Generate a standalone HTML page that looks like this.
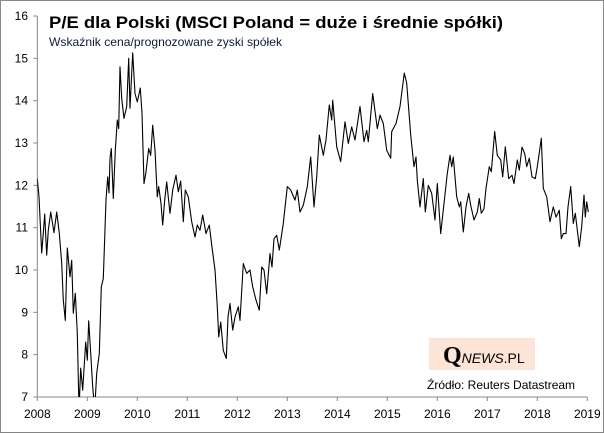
<!DOCTYPE html>
<html><head><meta charset="utf-8"><style>
html,body{margin:0;padding:0;background:#fff}
svg{display:block;font-family:"Liberation Sans",sans-serif}
</style></head><body>
<svg id="chart" width="604" height="434" viewBox="0 0 604 434" xmlns="http://www.w3.org/2000/svg">
<rect x="0.5" y="0.5" width="603" height="432" fill="#fff" stroke="#888"/>
<text x="49" y="28" font-size="16.5" font-weight="bold" fill="#000" textLength="454" lengthAdjust="spacingAndGlyphs">P/E dla Polski (MSCI Poland = duże i średnie spółki)</text>
<text x="49" y="46" font-size="12" fill="#0d1a3a" textLength="233" lengthAdjust="spacingAndGlyphs">Wskaźnik cena/prognozowane zyski spółek</text>
<g id="axes"></g>
<g id="series"></g>
<rect x="429" y="338" width="106" height="32" fill="#fce4d6"/>
<text x="443" y="363" fill="#000"><tspan font-family="Liberation Serif,serif" font-size="24" font-weight="bold">Q</tspan><tspan font-size="14" font-style="italic">NEWS</tspan><tspan font-size="14">.PL</tspan></text>
<text x="427" y="389" font-size="12" fill="#000">Źródło: Reuters Datastream</text>
</svg>
<script>
const yTicks=[7,8,9,10,11,12,13,14,15,16];
const xTicks=[2008,2009,2010,2011,2012,2013,2014,2015,2016,2017,2018,2019];
const dates=[0,.034,.088,.12,.148,.188,.22,.268,.334,.388,.44,.488,.52,.56,.6,.654,.688,.72,.76,.8,.834,.868,.908,.968,1.0,1.028,1.068,1.108,1.148,1.188,1.24,1.28,1.32,1.374,1.408,1.434,1.454,1.48,1.52,1.56,1.6,1.628,1.654,1.688,1.734,1.788,1.828,1.854,1.908,1.954,2.0,2.06,2.094,2.134,2.174,2.228,2.268,2.308,2.354,2.4,2.428,2.474,2.508,2.548,2.588,2.654,2.708,2.774,2.82,2.868,2.92,2.96,3.02,3.088,3.154,3.2,3.254,3.308,3.374,3.44,3.488,3.554,3.6,3.628,3.668,3.72,3.78,3.814,3.854,3.908,3.954,4.02,4.054,4.12,4.188,4.254,4.308,4.374,4.44,4.488,4.534,4.588,4.654,4.694,4.734,4.788,4.84,4.92,5.0,5.068,5.154,5.2,5.254,5.32,5.4,5.468,5.534,5.588,5.64,5.72,5.774,5.84,5.888,5.908,5.988,6.068,6.154,6.22,6.288,6.354,6.454,6.534,6.588,6.62,6.708,6.8,6.854,6.92,6.988,7.068,7.088,7.174,7.254,7.34,7.388,7.468,7.534,7.574,7.6,7.654,7.72,7.76,7.82,7.888,7.954,8.0,8.068,8.134,8.2,8.254,8.288,8.32,8.388,8.44,8.468,8.52,8.574,8.628,8.668,8.734,8.8,8.84,8.88,8.934,8.974,9.04,9.08,9.148,9.2,9.268,9.308,9.36,9.428,9.494,9.534,9.6,9.64,9.694,9.748,9.788,9.84,9.894,9.96,10.0,10.08,10.12,10.188,10.254,10.32,10.374,10.44,10.48,10.52,10.574,10.614,10.668,10.72,10.76,10.84,10.888,10.934,10.96,10.988,11.02];
const peValues=[12.16,11.73,10.4,10.87,11.32,10.35,10.94,11.37,10.88,11.37,10.87,10.16,9.29,8.81,10.52,9.84,10.23,8.98,9.45,8.51,6.7,7.68,7.16,8.3,7.87,8.8,8.03,7.24,6.7,7.56,8.03,9.6,9.8,11.65,12.2,11.82,12.64,12.87,11.69,12.83,13.54,13.34,14.8,14.05,13.58,13.86,15.0,13.82,15.13,14.17,13.97,14.3,13.7,12.04,12.32,12.87,12.71,13.42,12.83,11.73,11.97,11.57,11.06,11.65,12.08,11.34,11.89,12.24,11.85,12.1,11.14,11.89,11.73,11.14,10.78,11.06,10.94,11.3,10.86,11.06,10.59,10.0,9.13,8.42,8.77,8.1,7.91,8.89,9.21,8.58,8.89,9.13,8.81,10.15,9.92,10.0,9.6,9.29,9.05,10.07,10.0,9.44,10.39,10.07,10.74,10.82,10.47,11.1,11.97,11.89,11.65,11.89,11.37,11.53,11.97,12.67,11.49,12.2,13.19,12.71,13.07,13.9,13.54,14.01,12.91,12.56,13.5,12.99,13.38,13.07,13.86,13.03,13.3,13.03,14.17,13.34,13.66,13.46,12.83,12.64,13.27,13.46,13.86,14.65,14.41,13.19,12.44,12.67,12.12,11.49,12.16,11.37,12.0,11.81,11.18,12.04,10.86,11.57,12.28,12.71,12.44,12.67,11.73,11.49,11.61,10.9,11.49,11.81,11.53,11.18,11.37,11.69,11.34,11.45,11.93,12.44,12.32,13.27,12.71,12.6,12.2,12.91,12.16,12.24,12.04,12.6,12.36,12.9,12.75,12.44,12.64,12.2,12.16,12.44,13.11,11.93,11.73,11.14,11.49,11.25,11.41,10.74,10.86,10.86,11.49,11.97,11.1,11.34,10.55,11.02,11.77,11.25,11.61,11.37];
const X0=37.3,PX_YEAR=50,Y_TOP=16,Y_BOT=397;
function xScale(yr){return X0+(yr-2008)*PX_YEAR;}
function yScale(v){return Y_BOT-(v-7)*(Y_BOT-Y_TOP)/9;}
const NS='http://www.w3.org/2000/svg';
const svg=document.getElementById('chart');
const axes=document.getElementById('axes');
const ser=document.getElementById('series');
function mk(t,a,p){const e=document.createElementNS(NS,t);for(const k in a)e.setAttribute(k,a[k]);p.appendChild(e);return e;}
const defs=mk('defs',{},svg);
const cp=mk('clipPath',{id:'plotclip'},defs);
mk('rect',{x:X0,y:Y_TOP-2,width:560,height:Y_BOT-Y_TOP+2},cp);
const yl=mk('line',{x1:X0,y1:Y_TOP,x2:X0,y2:Y_BOT,stroke:'#888','stroke-width':1},axes);


const xl=mk('line',{x1:X0,y1:Y_BOT,x2:xScale(2019),y2:Y_BOT,stroke:'#888','stroke-width':1},axes);


yTicks.forEach(v=>{const y=yScale(v);
 const t=mk('line',{x1:X0-4,y1:y,x2:X0,y2:y,stroke:'#888'},axes);
 
 
 const l=mk('text',{x:28,y:y+4,'text-anchor':'end','font-size':12,fill:'#000'},axes);
 
 
 l.textContent=v;});
xTicks.forEach(v=>{const x=xScale(v);
 const t=mk('line',{x1:x,y1:Y_BOT,x2:x,y2:Y_BOT+4,stroke:'#888'},axes);
 
 
 const l=mk('text',{x:x,y:418,'text-anchor':'middle','font-size':12,fill:'#000'},axes);
 
 
 l.textContent=v;});
const d=dates.map((t,i)=>(i?'L':'M')+xScale(2008+t).toFixed(1)+' '+yScale(peValues[i]).toFixed(1)).join(' ');
const line=mk('path',{d:d,fill:'none',stroke:'#000','stroke-width':1.1,'stroke-linejoin':'round','clip-path':'url(#plotclip)'},ser);


</script>
</body></html>
